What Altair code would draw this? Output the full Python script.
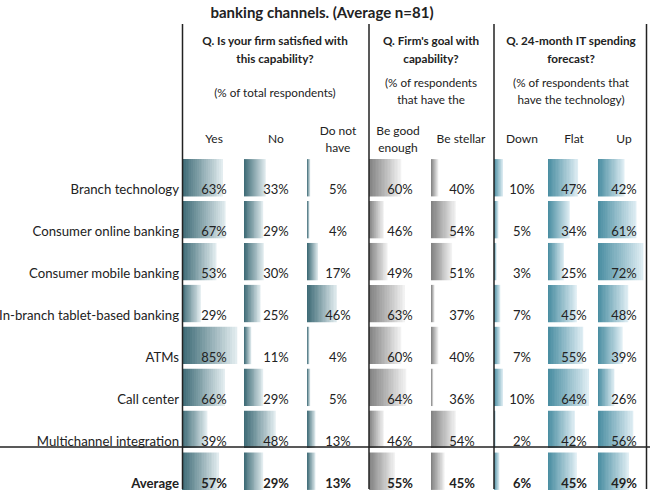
import altair as alt
import pandas as pd

# Rows of the table (the last one is the average across technologies)
rows = [
    "Branch technology",
    "Consumer online banking",
    "Consumer mobile banking",
    "In-branch tablet-based banking",
    "ATMs",
    "Call center",
    "Multichannel integration",
    "Average",
]

# Q. Is your firm satisfied with this capability? (% of total respondents)
yes = [63, 67, 53, 29, 85, 66, 39, 57]
no = [33, 29, 30, 25, 11, 29, 48, 29]
do_not_have = [5, 4, 17, 46, 4, 5, 13, 13]

# Q. Firm's goal with capability?
good_enough = [60, 46, 49, 63, 60, 64, 46, 55]
stellar = [40, 54, 51, 37, 40, 36, 54, 45]

# Q. 24-month IT spending forecast?
down = [10, 5, 3, 7, 7, 10, 2, 6]
flat = [47, 34, 25, 45, 55, 64, 42, 45]
up = [42, 61, 72, 48, 39, 26, 56, 49]

series = [
    ("Yes", yes), ("No", no), ("Do not have", do_not_have),
    ("Be good enough", good_enough), ("Be stellar", stellar),
    ("Down", down), ("Flat", flat), ("Up", up),
]

records = []
for name, vals in series:
    for r, v in zip(rows, vals):
        records.append({"row": r, "measure": name, "value": v})
df = pd.DataFrame(records)

FONT = "Lato"
INK = "#222222"


def _hex(c):
    return tuple(int(c[i:i + 2], 16) for i in (1, 3, 5))


def banded(dark, light, steps=22):
    """Stepped left-to-right gradient, giving the banded fill of the bars."""
    d, l = _hex(dark), _hex(light)
    stops = []
    for i in range(steps):
        t = i / (steps - 1)
        col = "#%02x%02x%02x" % tuple(round(a + (b - a) * t) for a, b in zip(d, l))
        stops.append(alt.GradientStop(color=col, offset=i / steps))
        stops.append(alt.GradientStop(color=col, offset=(i + 1) / steps))
    return alt.LinearGradient(gradient="linear", x1=0, x2=1, y1=0, y2=0, stops=stops)


TEAL = banded("#3f6c77", "#e2ecef")
GRAY = banded("#828282", "#f2f2f2")
BLUE = banded("#4b8ea2", "#deedf3")

# column layout: measure, bar start, domain minimum, bar length at 100%, label centre, fill
columns = [
    ("Yes", 182, 0, 65, 214, TEAL),
    ("No", 244, 0, 66, 276, TEAL),
    ("Do not have", 307, 0, 65, 338, TEAL),
    ("Be good enough", 369, 34, 124, 400, GRAY),
    ("Be stellar", 431, 34, 124, 462, GRAY),
    ("Down", 494, 0, 90, 522, BLUE),
    ("Flat", 548, 0, 64, 574, BLUE),
    ("Up", 598, 0, 63, 624, BLUE),
]

row_scale = alt.Scale(domain=rows, range=[157, 492], paddingInner=0.11, paddingOuter=0.05)
y_band = alt.Y("row:N", sort=rows, scale=row_scale, axis=None)
y_base = alt.Y("row:N", sort=rows, scale=row_scale, axis=None, bandPosition=1)

layers = []

for name, start, lo, length, centre, fill in columns:
    bars = alt.Chart(df).transform_filter(alt.datum.measure == name).mark_bar(
        color=fill, cornerRadius=0
    ).encode(
        x=alt.X("value:Q",
                scale=alt.Scale(domain=[lo, 100], range=[start, start + length * (100 - lo) / 100], zero=False),
                axis=None),
        x2=alt.datum(lo),
        y=y_band,
    )
    layers.append(bars)
    for weight, test in (("normal", alt.datum.row != "Average"), ("bold", alt.datum.row == "Average")):
        labels = alt.Chart(df).transform_filter(alt.datum.measure == name).transform_filter(test).transform_calculate(
            label="datum.value + '%'"
        ).mark_text(
            font=FONT, fontSize=13, fontWeight=weight, color=INK, align="center",
            baseline="alphabetic", dy=-2,
        ).encode(x=alt.value(centre), y=y_base, text="label:N")
        layers.append(labels)

# row labels
row_df = pd.DataFrame({"row": rows})
for weight, test in (("normal", alt.datum.row != "Average"), ("bold", alt.datum.row == "Average")):
    layers.append(
        alt.Chart(row_df).transform_filter(test).mark_text(
            font=FONT, fontSize=13.2, fontWeight=weight, color=INK, align="right",
            baseline="alphabetic", dy=-2,
        ).encode(x=alt.value(179), y=y_base, text="row:N")
    )


def caption(txt, x, y, size=12, weight="normal"):
    return alt.Chart(pd.DataFrame({"t": [txt]})).mark_text(
        font=FONT, fontSize=size, fontWeight=weight, color=INK, align="center", baseline="alphabetic"
    ).encode(x=alt.value(x), y=alt.value(y), text="t:N")


headers = [
    ("banking channels. (Average n=81)", 322, 18, 15, "bold"),
    ("Q. Is your firm satisfied with", 275, 45, 11.7, "bold"),
    ("this capability?", 275, 63, 11.7, "bold"),
    ("(% of total respondents)", 275, 97, 11.7, "normal"),
    ("Q. Firm's goal with", 431, 45, 11.7, "bold"),
    ("capability?", 431, 63, 11.7, "bold"),
    ("(% of respondents", 431, 87, 11.7, "normal"),
    ("that have the", 431, 104, 11.7, "normal"),
    ("Q. 24-month IT spending", 571, 45, 11.7, "bold"),
    ("forecast?", 571, 63, 11.7, "bold"),
    ("(% of respondents that", 571, 87, 11.7, "normal"),
    ("have the technology)", 571, 104, 11.7, "normal"),
    ("Yes", 214, 143, 12, "normal"),
    ("No", 276, 143, 12, "normal"),
    ("Do not", 338, 135, 12, "normal"),
    ("have", 338, 152, 12, "normal"),
    ("Be good", 398, 135, 12, "normal"),
    ("enough", 398, 152, 12, "normal"),
    ("Be stellar", 461, 143, 12, "normal"),
    ("Down", 522, 143, 12, "normal"),
    ("Flat", 574, 143, 12, "normal"),
    ("Up", 624, 143, 12, "normal"),
]
for txt, x, y, size, weight in headers:
    layers.append(caption(txt, x, y, size, weight))

# table rules
rule_df = pd.DataFrame({"k": [0]})
for xv in (182.5, 369, 494, 646.5):
    layers.append(
        alt.Chart(rule_df).mark_rule(color=INK, strokeWidth=1.5).encode(
            x=alt.value(xv), y=alt.value(24), y2=alt.value(489)
        )
    )
layers.append(
    alt.Chart(rule_df).mark_rule(color=INK, strokeWidth=1.5).encode(
        x=alt.value(0), x2=alt.value(650), y=alt.value(447)
    )
)

chart = alt.layer(*layers).resolve_scale(x="independent").properties(
    width=650, height=497, padding=0, autosize="none"
).configure_view(stroke=None)

chart.save("out.html", embed_options={"renderer": "svg", "actions": False})
